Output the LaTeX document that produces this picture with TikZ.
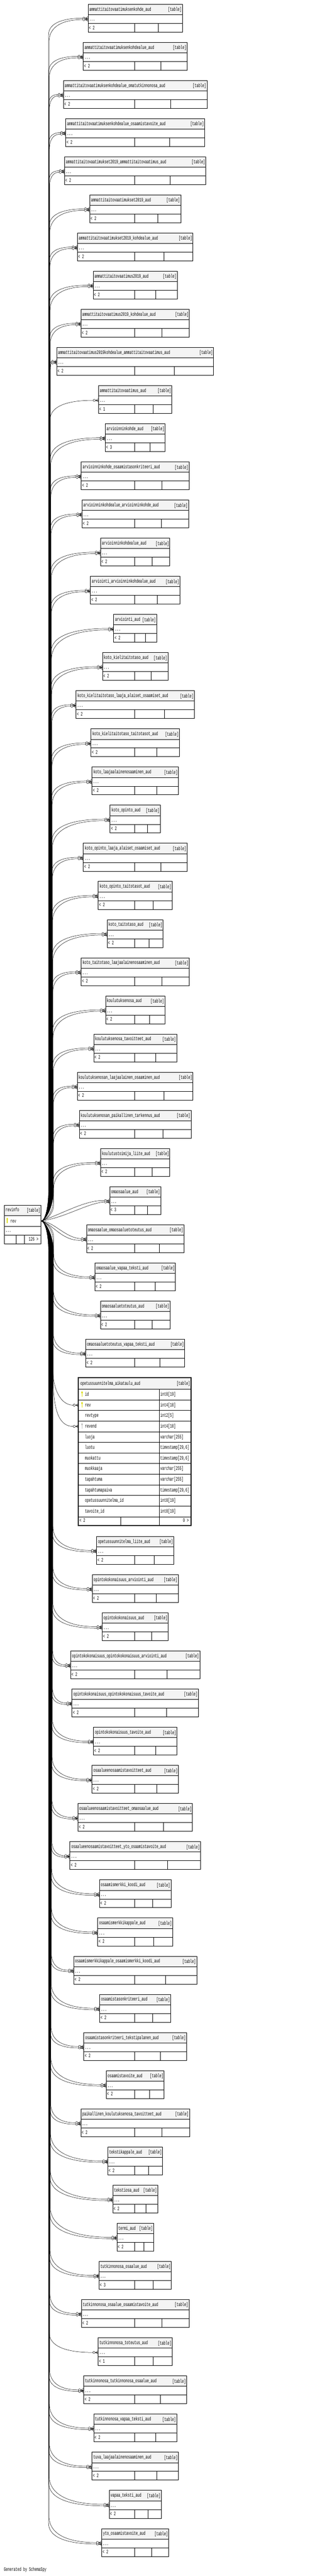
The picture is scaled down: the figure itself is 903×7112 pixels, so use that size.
\documentclass[tikz,border=0pt]{standalone}
\usepackage{fontspec}
\newfontfamily\dfont[FakeStretch=0.613]{Liberation Mono}
\usetikzlibrary{calc}
\definecolor{hdrgray}{HTML}{F4F4F4}
\definecolor{keyyel}{HTML}{DDDD00}
\definecolor{keygry}{HTML}{C0C0C0}
\tikzset{
 tbox/.style={draw, line width=0.9pt, outer sep=0pt, inner sep=0pt, anchor=north west},
 hbox/.style={tbox, fill=hdrgray},
 cbox/.style={tbox, fill=white},
 lbl/.style={inner sep=0pt, outer sep=0pt, anchor=base west},
 rlbl/.style={inner sep=0pt, outer sep=0pt, anchor=base east},
 rel/.style={line width=0.7pt},
 keyp/.pic={\fill (0,9) ellipse[x radius=2.1,y radius=3]; \fill (-0.85,10) rectangle (0.85,21);}
}
% crow's foot + circle at table edge x=#1, y=#2
\newcommand\crowcap[2]{%
 \draw[rel] (#1-8.4,#2) -- (#1,#2);
 \draw[rel] (#1,#2-4.4) -- (#1-7,#2) -- (#1,#2+4.4);
 \draw[rel,fill=white] (#1-11.5,#2) circle[radius=3.1];
}
% edge from revinfo to table #1 ; #2 trunk x ; #3 departure distance ; #4 end offset ; #5 direction
\newcommand\redge[5]{%
 \pgfmathsetmacro\yend{\YE+(#4)}%
 \pgfmathsetmacro\ydep{\yend+(#5)*(#3)}%
 \pgfmathsetmacro\fl{min(85,0.5*abs(3371-\ydep))}%
 \pgfmathsetmacro\yf{3371-(#5)*\fl}%
 \pgfmathsetmacro\yfc{3371-(#5)*0.45*\fl}%
 \pgfmathsetmacro\ca{\yend+(#5)*0.35*(#3)}%
 \pgfmathsetmacro\xe{\LL-14.6}%
 \pgfmathsetmacro\cb{#2+0.35*max(\xe-(#2),0)}%
 \pgfmathsetmacro\ysh{0-(#4)}%
 \draw[rel] (rv.east) .. controls (125,3371) and (#2,\yfc) .. (#2,\yf) -- (#2,\ydep)
   .. controls (#2,\ca) and (\cb,\yend) .. ([xshift=-14.6pt,yshift=\ysh pt]d#1.west);
 \crowcap{\LL}{\yend}%
}
\begin{document}
\begin{tikzpicture}[x=1pt,y=-1pt,font=\dfont\fontsize{14.5pt}{16pt}\selectfont]
\fill[white] (0,0) rectangle (903,7112);
\useasboundingbox (0,0) rectangle (903,7112);

% ---------------- revinfo ----------------
\node[hbox, minimum width=101.4, minimum height=29.1] (rvh) at (11.9,3327.3) {};
\node[lbl] (rvn) at (15.3,3345.3) {revinfo};
\node[rlbl] (rvg) at (111,3346) {[table]};
\node[cbox, minimum width=101.4, minimum height=29.1] (rv) at (11.9,3356.4) {};
\pic[keyyel] at (20,3356.4) {keyp};
\node[lbl] (rvc) at (28.7,3375.6) {rev};
\node[cbox, minimum width=101.4, minimum height=23.8] (rvd) at (11.9,3385.5) {};
\node[lbl] (rvx) at (15,3401.6) {...};
\node[cbox, minimum width=101.4, minimum height=24.1] (rvb) at (11.9,3409.3) {};
\draw[line width=0.9pt] (44.4,3409.3) -- (44.4,3433.4);
\draw[line width=0.9pt] (67.4,3409.3) -- (67.4,3433.4);
\node[rlbl] (rvk) at (106,3426.5) {126 >};

% ---------------- compact tables ----------------
\foreach \i/\nm/\w/\np in {
1/ammattitaitovaatimuksenkohde\_aud/260.6/2,
2/ammattitaitovaatimuksenkohdealue\_aud/287.0/2,
3/ammattitaitovaatimuksenkohdealue\_omatutkinnonosa\_aud/396.5/2,
4/ammattitaitovaatimuksenkohdealue\_osaamistavoite\_aud/383.5/2,
5/ammattitaitovaatimukset2019\_ammattitaitovaatimus\_aud/390.4/2,
6/ammattitaitovaatimukset2019\_aud/251.4/2,
7/ammattitaitovaatimukset2019\_kohdealue\_aud/319.2/2,
8/ammattitaitovaatimus2019\_aud/231.9/2,
9/ammattitaitovaatimus2019\_kohdealue\_aud/299.7/2,
10/ammattitaitovaatimus2019kohdealue\_ammattitaitovaatimus\_aud/433.2/2,
11/ammattitaitovaatimus\_aud/202.8/1,
12/arvioinninkohde\_aud/165.3/3,
13/arvioinninkohde\_osaamistasonkriteeri\_aud/297.7/2,
14/arvioinninkohdealue\_arvioinninkohde\_aud/294.3/2,
15/arvioinninkohdealue\_aud/191.3/2,
16/arviointi\_arvioinninkohdealue\_aud/247.2/2,
17/arviointi\_aud/118.6/2,
18/koto\_kielitaitotaso\_aud/180.6/2,
19/koto\_kielitaitotaso\_laaja\_alaiset\_osaamiset\_aud/326.8/2,
20/koto\_kielitaitotaso\_taitotasot\_aud/244.2/2,
21/koto\_laajaalainenosaaminen\_aud/238.8/2,
22/koto\_opinto\_aud/138.5/2,
23/koto\_opinto\_laaja\_alaiset\_osaamiset\_aud/286.3/2,
24/koto\_opinto\_taitotasot\_aud/204.0/2,
25/koto\_taitotaso\_aud/154.6/2,
26/koto\_taitotaso\_laajaalainenosaaminen\_aud/298.5/2,
27/koulutuksenosa\_aud/163.8/2,
28/koulutuksenosa\_tavoitteet\_aud/228.9/2,
29/koulutuksenosan\_laajaalainen\_osaaminen\_aud/319.6/2,
30/koulutuksenosan\_paikallinen\_tarkennus\_aud/308.5/2,
31/koulutustoimija\_liite\_aud/191.3/2,
32/omaosaalue\_aud/140.8/3,
33/omaosaalue\_omaosaaluetoteutus\_aud/269.0/2,
34/omaosaalue\_vapaa\_teksti\_aud/222.7/2,
35/omaosaaluetoteutus\_aud/192.1/2,
36/omaosaaluetoteutus\_vapaa\_teksti\_aud/273.2/2,
38/opetussuunnitelma\_liite\_aud/212.8/2,
39/opintokokonaisuus\_arviointi\_aud/237.3/2,
40/opintokokonaisuus\_aud/182.5/2,
41/opintokokonaisuus\_opintokokonaisuus\_arviointi\_aud/356.7/2,
42/opintokokonaisuus\_opintokokonaisuus\_tavoite\_aud/349.0/2,
43/opintokokonaisuus\_tavoite\_aud/230.4/2,
44/osaalueenosaamistavoitteet\_aud/238.8/2,
45/osaalueenosaamistavoitteet\_omaosaalue\_aud/316.1/2,
46/osaalueenosaamistavoitteet\_yto\_osaamistavoite\_aud/360.5/2,
47/osaamismerkki\_koodi\_aud/197.5/2,
48/osaamismerkkikappale\_aud/206.7/2,
49/osaamismerkkikappale\_osaamismerkki\_koodi\_aud/339.8/2,
50/osaamistasonkriteeri\_aud/195.9/2,
51/osaamistasonkriteeri\_tekstipalanen\_aud/283.6/2,
52/osaamistavoite\_aud/160.0/2,
53/paikallinen\_koulutuksenosa\_tavoitteet\_aud/300.0/2,
54/tekstikappale\_aud/150.8/2,
55/tekstiosa\_aud/124.0/2,
56/termi\_aud/101.0/2,
57/tutkinnonosa\_osaalue\_aud/199.8/3,
58/tutkinnonosa\_osaalue\_osaamistavoite\_aud/297.0/2,
59/tutkinnonosa\_toteutus\_aud/204.4/1,
60/tutkinnonosa\_tutkinnonosa\_osaalue\_aud/284.0/2,
61/tutkinnonosa\_vapaa\_teksti\_aud/229.2/2,
62/tuva\_laajaalainenosaaminen\_aud/238.8/2,
63/vapaa\_teksti\_aud/143.9/2,
64/yto\_osaamistavoite\_aud/185.2/2}{
 \pgfmathsetmacro\TT{ifthenelse(\i<38,11.5+(\i-1)*105.3,4241.7+(\i-38)*105.35)}
 \pgfmathsetmacro\LL{373.3-\w/2}
 \pgfmathsetmacro\RR{373.3+\w/2}
 \pgfmathsetmacro\DV{(371.6+\RR)/2}
 \pgfmathsetmacro\YE{\TT+40.75}
 \pgfmathsetmacro\dir{ifthenelse(\i<33,1,-1)}
 \pgfmathsetmacro\xv{ifthenelse(\i<33,134+13*(\i-1)/30,147-13*(\i-34)/30)}
 \pgfmathsetmacro\HH{18+0.3*(\LL-14.6-\xv)}
 \pgfmathsetmacro\HHb{\HH+16}
 \pgfmathsetmacro\xvb{\xv+1.2}
 \pgfmathsetmacro\offa{-2*\dir}
 \pgfmathsetmacro\offb{2*\dir}
 % boxes
 \node[hbox, minimum width=\w, minimum height=28.7] (h\i) at (\LL,\TT) {};
 \node[lbl] (n\i) at (\LL+4,\TT+18.6) {\nm};
 \node[rlbl] (g\i) at (\RR-2,\TT+19.3) {[table]};
 \node[cbox, minimum width=\w, minimum height=24.1] (d\i) at (\LL,\TT+28.7) {};
 \node[lbl] (x\i) at (\LL+3.5,\TT+45.9) {...};
 \node[cbox, minimum width=\w, minimum height=24.1] (b\i) at (\LL,\TT+52.8) {};
 \draw[line width=0.9pt] (371.6,\TT+52.8) -- (371.6,\TT+76.9);
 \draw[line width=0.9pt] (\DV,\TT+52.8) -- (\DV,\TT+76.9);
 \node[lbl] (p\i) at (\LL+2.5,\TT+69.6) {< \np};
 % connectors
 \ifnum\i=32
  \draw[rel] (rv.east) .. controls (175,3350) and (235,3313) .. ([xshift=-14.6pt,yshift=2pt]d32.west);
  \draw[rel] (rv.east) .. controls (180,3362) and (240,3322) .. ([xshift=-14.6pt,yshift=-2pt]d32.west);
  \crowcap{\LL}{\YE-2}
  \crowcap{\LL}{\YE+2}
 \else\ifnum\i=33
  \draw[rel] (rv.east) .. controls (150,3373) and (180,3418) .. ([xshift=-14.6pt,yshift=2pt]d33.west);
  \draw[rel] (rv.east) .. controls (145,3378) and (172,3428) .. ([xshift=-14.6pt,yshift=-2pt]d33.west);
  \crowcap{\LL}{\YE-2}
  \crowcap{\LL}{\YE+2}
 \else\ifnum\np=1
  \redge{\i}{\xv}{\HH}{0}{\dir}
 \else
  \redge{\i}{\xv}{\HH}{\offa}{\dir}
  \redge{\i}{\xvb}{\HHb}{\offb}{\dir}
 \fi\fi\fi
}

% ---------------- expanded table opetussuunnitelma_aikataulu_aud ----------------
\node[hbox, draw=none, minimum width=311.5, minimum height=32.1] (h37) at (216.6,3803.3) {};
\node[lbl] (n37) at (222,3824) {opetussuunnitelma\_aikataulu\_aud};
\node[rlbl] (g37) at (525,3824.7) {[table]};
\foreach \r/\cn/\ty in {0/id/int8[19],1/rev/int4[10],2/revtype/int2[5],3/revend/int4[10],
  4/luoja/varchar[255],5/luotu/{timestamp[29,6]},6/muokattu/{timestamp[29,6]},
  7/muokkaaja/varchar[255],8/tapahtuma/varchar[255],9/tapahtumapaiva/{timestamp[29,6]},
  10/opetussuunnitelma\_id/int8[19],11/tavoite\_id/int8[19]}{
 \pgfmathsetmacro\ry{3835.4+\r*29.33}
 \node[cbox, minimum width=223.4, minimum height=29.33] (r37-\r) at (216.6,\ry) {};
 \node[cbox, minimum width=88.1, minimum height=29.33] (s37-\r) at (440,\ry) {};
 \node[lbl] (cn37-\r) at (235,\ry+18.6) {\cn};
 \node[lbl] (ct37-\r) at (442.8,\ry+18.6) {\ty};
}
\pic[keyyel] at (226.6,3835.4) {keyp};
\pic[keyyel] at (226.6,3864.73) {keyp};
\pic[keygry] at (226.6,3923.39) {keyp};
\node[cbox, minimum width=311.5, minimum height=24.1] (b37) at (216.6,4187.4) {};
\draw[line width=0.9pt] (333.7,4187.4) -- (333.7,4211.5);
\draw[line width=0.9pt] (440,4187.4) -- (440,4211.5);
\node[lbl] (p37) at (219.5,4202.7) {< 2};
\node[rlbl] (q37) at (521.5,4202.7) {0 >};
\node[draw, line width=2.6pt, minimum width=311.5, minimum height=408.2, anchor=north west, inner sep=0pt, outer sep=0pt] (t37) at (216.6,3803.3) {};
\draw[rel] (rv.east) .. controls (125,3371) and (145.7,3410) .. (145.7,3460) -- (145.7,3777)
   .. controls (146.5,3845) and (172,3879.4) .. ([xshift=-14.6pt]r37-1.west);
\crowcap{216.6}{3879.4}
\draw[rel] (rv.east) .. controls (125,3371) and (146.9,3410) .. (146.9,3460) -- (146.9,3808)
   .. controls (147.5,3905) and (168,3938.1) .. ([xshift=-14.6pt]r37-3.west);
\crowcap{216.6}{3938.1}

% ---------------- footer ----------------
\node[lbl] (gen) at (10.7,7098) {Generated by SchemaSpy};
\end{tikzpicture}
\end{document}
